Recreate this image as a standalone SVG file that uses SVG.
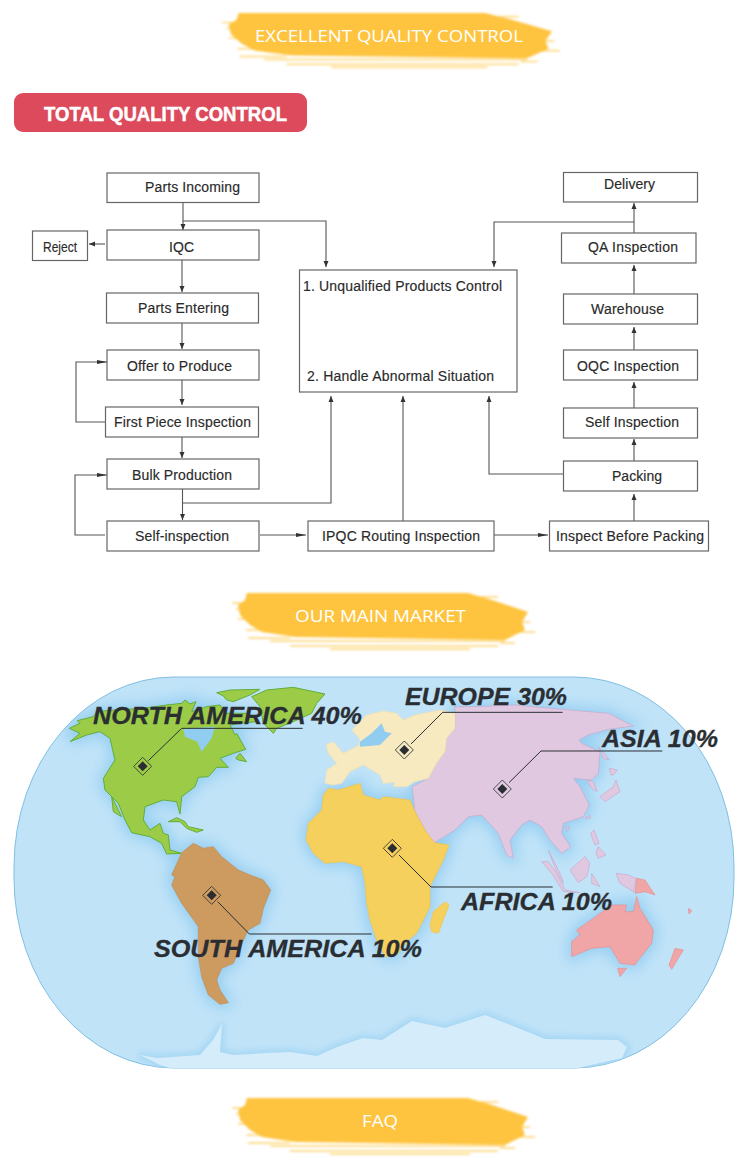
<svg xmlns="http://www.w3.org/2000/svg" width="750" height="1167" viewBox="0 0 750 1167">
<style>
.n{fill:#fff;stroke:#666;stroke-width:1.2}
.t{font:14px "Liberation Sans",Arial,sans-serif;fill:#2a2a2a;stroke:#2a2a2a;stroke-width:.15}
.c{fill:none;stroke:#555;stroke-width:1.1}
.a{marker-end:url(#ah)}
.al{marker-end:url(#ahl)}
.bt{font:17px "Open Sans","Liberation Sans",sans-serif;fill:#fff}
.lb{font:italic bold 24px "Liberation Sans",Arial,sans-serif;fill:#2a2e33;stroke:#2a2e33;stroke-width:.3}
.ld{fill:none;stroke:#2a2e33;stroke-width:3}
.halo{fill:#94cef1;stroke:#94cef1;stroke-width:24}
.na{fill:#9ccc47;stroke:#5fae3a;stroke-width:3;stroke-linejoin:round}
.sa{fill:#cd9a60;stroke:#c08d55;stroke-width:2;stroke-linejoin:round}
.af{fill:#f6d05c;stroke:#efc24c;stroke-width:2;stroke-linejoin:round}
.eu{fill:#f7e9c0;stroke:#f0dfb0;stroke-width:2;stroke-linejoin:round}
.as{fill:#e0c9e0;stroke:#c9a7cc;stroke-width:2;stroke-linejoin:round}
.au{fill:#f0a5a7;stroke:#e58e92;stroke-width:2;stroke-linejoin:round}
.w{fill:#90cdf0}
</style>
<defs>
<filter id="b1" x="-5%" y="-20%" width="110%" height="140%"><feGaussianBlur stdDeviation="1"/></filter>
<filter id="b2" x="-10%" y="-10%" width="120%" height="120%"><feGaussianBlur stdDeviation="20"/></filter>
<filter id="b3" x="-5%" y="-15%" width="110%" height="130%"><feGaussianBlur stdDeviation="3"/></filter>
<marker id="ah" markerUnits="userSpaceOnUse" markerWidth="7" markerHeight="6" refX="6" refY="3" orient="auto"><path d="M0 .5L6 3L0 5.500Z" fill="#333"/></marker>
<marker id="ahl" markerUnits="userSpaceOnUse" markerWidth="11" markerHeight="6" refX="10" refY="3" orient="auto"><path d="M0 1L10 3L0 5Z" fill="#333"/></marker>
<clipPath id="mapclip"><rect x="14" y="677" width="720" height="391" rx="160" ry="190"/></clipPath>
<g id="brush" filter="url(#b1)">
<path fill="#fec43f" d="M247 593L468 593L492 600L528 612L522 622L525 630L505 640L295 637L262 632L250 625L240 615L238 605L245 600Z"/>
<g stroke="#fec43f" stroke-width="2" opacity=".55" fill="none">
<path d="M232 603H252M236 609H250M238 619H252M246 630H262M248 638H290M270 641H505M290 646H498M330 649H470M480 597H498M505 632H535M515 622H530M500 643H515"/>
</g>
</g>
<g id="mark"><path d="M0 -27L27 0L0 27L-27 0Z" fill="none" stroke="#2a2e33" stroke-width="2.500"/><path d="M0 -15L15 0L0 15L-15 0Z" fill="#2a2e33"/></g>
<path id="pNA" d="M210 215L240 190L208 175L240 160L232 152L280 140L290 125L340 120L430 115L500 105L545 100L555 90L570 102L588 95L575 125L620 110L660 105L680 130L740 130L770 145L770 155L720 160L690 165L705 195L710 190L737 238L700 250L660 265L685 292L650 292L625 320L595 322L585 350L545 380L540 432L530 395L490 390L435 410L430 450L450 480L480 460L490 490L505 495L510 540L545 550L500 552L485 520L450 500L395 488L375 450L355 400L315 360L310 325L345 270L330 205L300 185L260 195Z"/>
<path id="pSA" d="M545 548L580 520L610 535L640 530L665 560L715 600L750 615L790 630L812 660L790 715L780 760L745 780L735 800L700 880L665 895L650 930L660 960L685 998L660 1003L625 975L605 920L595 860L595 770L545 700L515 645L525 620L515 615Z"/>
<path id="pAF" d="M918 510L925 460L965 420L970 375L985 355L1015 360L1080 340L1090 375L1140 390L1150 380L1230 390L1245 425L1275 480L1303 518L1347 525L1330 570L1290 650L1290 710L1250 790L1225 810L1190 855L1155 860L1130 810L1110 750L1100 700L1095 640L1085 590L1030 575L975 580L940 550Z"/>
<path id="pEU" d="M975 340L980 300L1010 280L985 250L978 225L1000 215L1030 250L1078 225L1078 205L1055 180L1100 135L1150 123L1190 130L1210 150L1245 135L1320 120L1365 130L1365 175L1340 205L1335 245L1310 280L1285 325L1245 335L1220 350L1180 350L1185 337L1150 340L1140 315L1090 285L1050 305L1025 340L1000 345Z"/>
<path id="pAS" d="M1365 110L1425 110L1545 105L1685 118L1825 130L1900 168L1825 178L1765 195L1737 210L1745 220L1800 245L1795 310L1775 330L1720 325L1740 350L1768 405L1750 440L1690 460L1685 490L1712 530L1685 550L1650 510L1625 470L1590 450L1565 465L1530 510L1540 565L1520 555L1495 490L1445 435L1405 440L1365 480L1303 518L1275 480L1245 425L1237 350L1285 325L1310 280L1335 245L1340 205L1365 175Z"/>
<path id="pAU" d="M1730 780L1780 745L1835 705L1880 705L1875 725L1900 725L1910 680L1920 715L1960 780L1955 820L1915 870L1905 885L1860 880L1830 830L1775 835L1715 860L1715 815L1740 795Z"/>
<path id="pAN" d="M140 1055L157 1058L200 1055L213 1040L222 1024L220 1052L233 1055L267 1053L290 1052L317 1056L337 1047L363 1038L382 1040L412 1021L445 1028L485 1015L518 1028L545 1039L618 1040L627 1047L622 1058L578 1068H170L160 1065Z"/>
</defs>

<g id="banner-top"><use href="#brush" transform="translate(222,10) scale(1.115,.97) translate(-232,-590)"/><text class="bt" x="255" y="42" textLength="268" lengthAdjust="spacingAndGlyphs">EXCELLENT QUALITY CONTROL</text></g>
<g id="title-tqc"><rect x="14" y="93" width="293" height="39" rx="9" fill="#dc4a5b"/><text x="44" y="121" textLength="243" lengthAdjust="spacingAndGlyphs" style="font:bold 20px 'Liberation Sans',Arial,sans-serif;fill:#fff;stroke:#fff;stroke-width:.5">TOTAL QUALITY CONTROL</text></g>

<g id="connectors">
<path class="c a" d="M183 202V230"/>
<path class="c a" d="M183 221H326V267"/>
<path class="c a" d="M105 244H89"/>
<path class="c a" d="M182 260V292"/>
<path class="c a" d="M182 323V349"/>
<path class="c a" d="M182 380V405"/>
<path class="c a" d="M182 437V458"/>
<path class="c al" d="M105 422H76V362H107"/>
<path class="c a" d="M182.500 489V520"/>
<path class="c a" d="M182.500 503H331V396"/>
<path class="c al" d="M105 535H75V475H107"/>
<path class="c al" d="M260 535H306"/>
<path class="c a" d="M403 521V396"/>
<path class="c al" d="M494 535H548"/>
<path class="c a" d="M634 521V494"/>
<path class="c a" d="M563 474H489V396"/>
<path class="c a" d="M634 461V439"/>
<path class="c a" d="M634 408V382"/>
<path class="c a" d="M634 350V327"/>
<path class="c a" d="M634 294V265"/>
<path class="c a" d="M634 233V203"/>
<path class="c a" d="M634 222H494V267"/>
</g>

<g id="n-parts-incoming"><rect class="n" x="107" y="173" width="152" height="29.500"/><text class="t" x="145" y="192" textLength="95">Parts Incoming</text></g>
<g id="n-iqc"><rect class="n" x="107" y="230" width="152" height="30"/><text class="t" x="169" y="252" textLength="25">IQC</text></g>
<g id="n-reject"><rect class="n" x="32.500" y="231" width="55" height="29.500"/><text class="t" x="43" y="252" textLength="34" lengthAdjust="spacingAndGlyphs">Reject</text></g>
<g id="n-parts-entering"><rect class="n" x="106.500" y="293" width="152" height="30"/><text class="t" x="138" y="313" textLength="91">Parts Entering</text></g>
<g id="n-offer"><rect class="n" x="107" y="350" width="152" height="30"/><text class="t" x="127" y="371" textLength="105">Offer to Produce</text></g>
<g id="n-first-piece"><rect class="n" x="105.500" y="407" width="153" height="30"/><text class="t" x="114" y="427" textLength="137">First Piece Inspection</text></g>
<g id="n-bulk"><rect class="n" x="107" y="459" width="152" height="30"/><text class="t" x="132" y="480" textLength="100">Bulk Production</text></g>
<g id="n-self"><rect class="n" x="107" y="521" width="152" height="30"/><text class="t" x="135" y="541" textLength="94">Self-inspection</text></g>
<g id="n-control"><rect class="n" x="299.500" y="270" width="217.500" height="122"/><text class="t" x="303" y="291" textLength="199">1. Unqualified Products Control</text><text class="t" x="307" y="381" textLength="187">2. Handle Abnormal Situation</text></g>
<g id="n-ipqc"><rect class="n" x="308" y="521" width="186" height="30"/><text class="t" x="322" y="541" textLength="158">IPQC Routing Inspection</text></g>
<g id="n-before-packing"><rect class="n" x="549.500" y="521" width="159" height="30"/><text class="t" x="556" y="541" textLength="148">Inspect Before Packing</text></g>
<g id="n-packing"><rect class="n" x="563.500" y="461" width="134" height="30"/><text class="t" x="612" y="481" textLength="50">Packing</text></g>
<g id="n-self-inspection"><rect class="n" x="563.500" y="408" width="134" height="30"/><text class="t" x="585" y="427" textLength="94">Self Inspection</text></g>
<g id="n-oqc"><rect class="n" x="563.500" y="350" width="134" height="30"/><text class="t" x="577" y="371" textLength="102">OQC Inspection</text></g>
<g id="n-warehouse"><rect class="n" x="563.500" y="294" width="134" height="30"/><text class="t" x="591" y="314" textLength="73">Warehouse</text></g>
<g id="n-qa"><rect class="n" x="561.500" y="233" width="134.500" height="30"/><text class="t" x="588" y="252" textLength="90">QA Inspection</text></g>
<g id="n-delivery"><rect class="n" x="563.500" y="172.500" width="134" height="29.500"/><text class="t" x="604" y="189" textLength="51">Delivery</text></g>

<g id="banner-market"><use href="#brush"/><text class="bt" x="295" y="622" textLength="171" lengthAdjust="spacingAndGlyphs">OUR MAIN MARKET</text></g>

<g id="map">
<rect x="14" y="677" width="720" height="391" rx="160" ry="190" fill="#c0e3f8" stroke="#7fbfe2" stroke-width="1"/>
<g clip-path="url(#mapclip)">
<g transform="translate(0,670) scale(.33333)">
<g filter="url(#b2)"><use href="#pNA" class="halo"/><use href="#pSA" class="halo"/><use href="#pAS" class="halo"/><use href="#pAU" class="halo"/><use href="#pAF" class="halo"/></g>
</g>
<use href="#pAN" fill="#a6d7f4" stroke="#a6d7f4" stroke-width="7" filter="url(#b3)"/>
<use href="#pAN" fill="#d5ecfa"/>
</g>
<g transform="translate(0,670) scale(.33333)">
<use href="#pNA" class="na"/>
<path class="w" d="M550 178L575 175L645 170L635 205L605 245L592 215L555 200Z"/>
<g class="na">
<path d="M650 68L690 60L780 58L750 75L700 95L680 90L670 78Z"/>
<path d="M755 80L800 60L880 52L975 72L950 100L935 130L880 155L830 175L820 190L790 160L780 110Z"/>
<path d="M707 265L720 250L740 275L715 270Z"/>
<path d="M335 380L365 440L340 425Z"/>
<path d="M505 455L530 443L555 455L565 470L610 480L590 487L560 475L540 455Z"/>
</g>
<use href="#pSA" class="sa"/>
<use href="#pAS" class="as"/>
<use href="#pEU" class="eu"/>
<path class="w" d="M1080 215L1115 190L1145 160L1155 185L1175 190L1140 225L1080 230Z"/>
<use href="#pAF" class="af"/>
<path class="af" d="M1290 765L1300 725L1335 695L1347 705L1330 750L1315 790L1295 785Z"/>
<g class="as">
<path d="M1795 230L1828 270L1810 265Z"/>
<path d="M1828 295L1852 300L1840 315L1833 315Z"/>
<path d="M1800 380L1840 350L1848 330L1860 365L1815 395Z"/>
<path d="M1760 330L1780 335L1792 365L1775 355Z"/>
<path d="M1755 445L1770 435L1770 445Z"/>
<path d="M1698 470L1708 470L1702 485Z"/>
<path d="M1772 490L1782 480L1797 520L1785 525Z"/>
<path d="M1795 530L1818 555L1795 565L1788 550Z"/>
<path d="M1710 600L1755 560L1770 580L1760 620L1735 638Z"/>
<path d="M1775 610L1800 650L1775 640Z"/>
<path d="M1625 575L1645 575L1670 610L1695 660L1740 668L1690 665L1655 610Z"/>
<path d="M1645 540L1685 620L1690 640L1670 605L1660 580Z"/>
<path d="M1848 610L1885 615L1908 625L1900 665L1860 640Z"/>
</g>
<use href="#pAU" class="au"/>
<g class="au">
<path d="M1910 625L1935 630L1965 675L1935 665L1905 670Z"/>
<path d="M1853 895L1880 895L1860 920Z"/>
<path d="M2025 835L2050 840L2015 898L2007 885Z"/>
<path d="M2065 715L2075 722L2067 732Z"/>
</g>
<g id="markers-and-leaders">
<use href="#mark" transform="translate(428,289)"/><path class="ld" d="M445 272L545 175H908"/>
<use href="#mark" transform="translate(635,676)"/><path class="ld" d="M653 695L748 792H1115"/>
<use href="#mark" transform="translate(1213,240)"/><path class="ld" d="M1233 222L1328 127H1688"/>
<use href="#mark" transform="translate(1507,357)"/><path class="ld" d="M1527 338L1623 243H1987"/>
<use href="#mark" transform="translate(1177,535)"/><path class="ld" d="M1197 555L1293 651H1658"/>
</g>
</g>
<text class="lb" x="93" y="724" textLength="269" lengthAdjust="spacingAndGlyphs">NORTH AMERICA 40%</text>
<text class="lb" x="154" y="957" textLength="268" lengthAdjust="spacingAndGlyphs">SOUTH AMERICA 10%</text>
<text class="lb" x="405" y="705" textLength="162" lengthAdjust="spacingAndGlyphs">EUROPE 30%</text>
<text class="lb" x="602" y="747" textLength="116" lengthAdjust="spacingAndGlyphs">ASIA 10%</text>
<text class="lb" x="461" y="910" textLength="151" lengthAdjust="spacingAndGlyphs">AFRICA 10%</text>
</g>

<g id="banner-faq"><use href="#brush" transform="translate(0,505)"/><text class="bt" x="362" y="1127" textLength="36" lengthAdjust="spacingAndGlyphs">FAQ</text></g>
</svg>
